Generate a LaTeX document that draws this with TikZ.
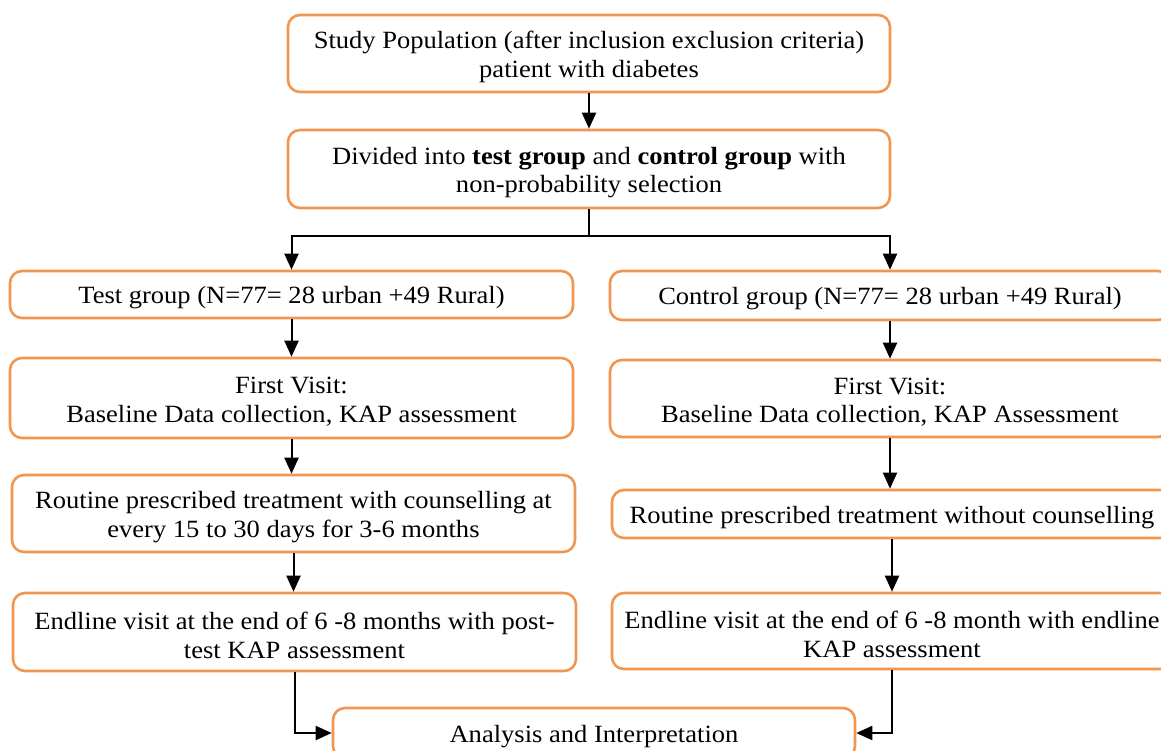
\documentclass[tikz,border=0pt]{standalone}
\usepackage{fontspec}
\setmainfont{Liberation Serif}[FakeStretch=1.07]
\usetikzlibrary{arrows.meta,calc}
\definecolor{boxorange}{RGB}{240,150,80}
\newcommand{\mytopstrut}{\rule{0pt}{24pt}}
\begin{document}
\begin{tikzpicture}[x=1pt,y=-1pt,
  box/.style={draw=boxorange,line width=2.6pt,rounded corners=12pt,fill=white,
    align=center,inner sep=0pt,font=\fontsize{24.8}{28.5}\selectfont},
  arr/.style={line width=2pt,-{Triangle[length=16pt,width=14pt]}},
  ln/.style={line width=2pt}]
\useasboundingbox (0,0) rectangle (1161,751);
\clip (0,0) rectangle (1161,751);
\node[box,minimum width=602pt,minimum height=77pt] (top) at (589,53.5)
  {\mytopstrut Study Population (after inclusion exclusion criteria)\\patient with diabetes};
\node[box,minimum width=602pt,minimum height=78pt] (div) at (589,169)
  {\mytopstrut Divided into \textbf{test group} and \textbf{control group} with\\non-probability selection};
\node[box,minimum width=563pt,minimum height=47pt] (L1) at (291.5,294.5)
  {\mytopstrut Test group (N=77= 28 urban +49 Rural)};
\node[box,minimum width=560pt,minimum height=49pt] (R1) at (890,295.5)
  {\mytopstrut Control group (N=77= 28 urban +49 Rural)};
\node[box,minimum width=563pt,minimum height=80pt] (L2) at (291.5,398)
  {\mytopstrut First Visit:\\Baseline Data collection, KAP assessment};
\node[box,minimum width=560pt,minimum height=77pt] (R2) at (890,398.5)
  {\mytopstrut First Visit:\\Baseline Data collection, KAP Assessment};
\node[box,minimum width=563pt,minimum height=77pt] (L3) at (293.5,513.5)
  {\mytopstrut Routine prescribed treatment with counselling at\\every 15 to 30 days for 3-6 months};
\node[box,minimum width=560pt,minimum height=48pt] (R3) at (892,514)
  {\mytopstrut Routine prescribed treatment without counselling};
\node[box,minimum width=563pt,minimum height=78pt] (L4) at (294.5,632)
  {\mytopstrut Endline visit at the end of 6 -8 months with post-\\test KAP assessment};
\node[box,minimum width=560pt,minimum height=76pt] (R4) at (892,631)
  {\mytopstrut Endline visit at the end of 6 -8 month with endline\\KAP assessment};
\node[box,minimum width=522pt,minimum height=50pt] (bot) at (594,733)
  {\mytopstrut Analysis and Interpretation};
\draw[arr] (top.south) -- (div.north);
\draw[ln] (div.south) -- ++(0,27) coordinate (split);
\draw[arr] (split) -| (L1.north);
\draw[arr] (split) -| (R1.north);
\draw[arr] (L1.south) -- (L1.south |- L2.north);
\draw[arr] (L2.south) -- (L2.south |- L3.north);
\draw[arr] (L3.south) -- (L3.south |- L4.north);
\draw[arr] (R1.south) -- (R1.south |- R2.north);
\draw[arr] (R2.south) -- (R2.south |- R3.north);
\draw[arr] (R3.south) -- (R3.south |- R4.north);
\draw[arr] (L4.south) |- (bot.west);
\draw[arr] (R4.south) |- (bot.east);
\end{tikzpicture}
\end{document}
